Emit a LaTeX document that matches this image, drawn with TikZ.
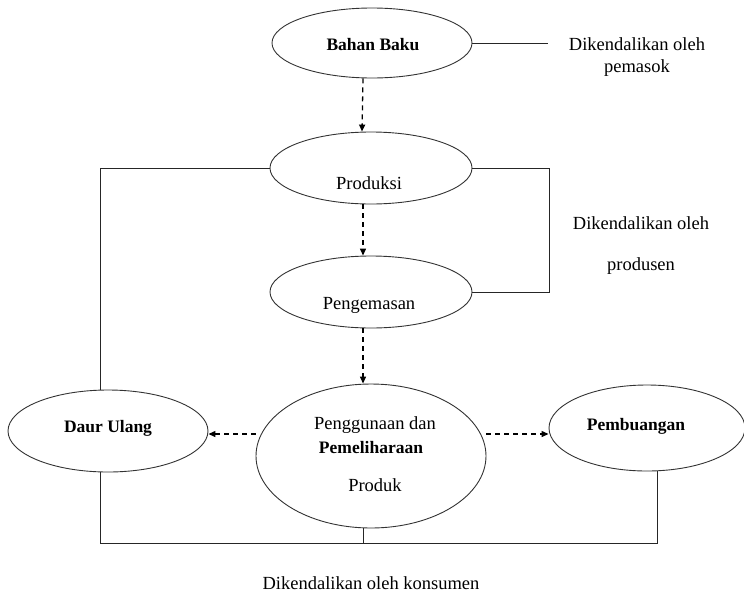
\documentclass[tikz,border=0pt]{standalone}
\usepackage{fontspec}
\setmainfont{Liberation Serif}
\usetikzlibrary{shapes.geometric,arrows.meta}
\begin{document}
\begin{tikzpicture}[x=1pt,y=-1pt,
  oval/.style={draw=black!80,line width=0.9pt,ellipse,inner sep=0pt},
  txt/.style={font=\fontsize{18.5}{22}\selectfont,inner sep=0pt,align=center},
  btxt/.style={font=\fontsize{17.5}{21}\selectfont\bfseries,inner sep=0pt,align=center},
  link/.style={draw=black!85,line width=0.8pt},
  dasharrow/.style={draw=black,line width=1.3pt,dash pattern=on 5pt off 4pt,
    -{Triangle[length=7pt,width=6pt]}}]
\useasboundingbox (0,0) rectangle (744,595);

% stages of the product life cycle
\node[oval,minimum width=200,minimum height=70] (bb) at (372,43) {};
\node[oval,minimum width=202,minimum height=72] (prod) at (371,168) {};
\node[oval,minimum width=202,minimum height=72] (kem) at (371,292) {};
\node[oval,minimum width=230,minimum height=144] (guna) at (371,456) {};
\node[oval,minimum width=200,minimum height=82] (daur) at (108,431) {};
\node[oval,minimum width=196,minimum height=86] (buang) at (647,428) {};

% labels inside the stages
\node[btxt] (tbb) at (373,45) {Bahan Baku};
\node[txt] (tprod) at (369,183) {Produksi};
\node[txt] (tkem) at (369,305) {Pengemasan};
\node[txt] (tguna1) at (375,425) {Penggunaan dan};
\node[btxt] (tguna2) at (371,448) {Pemeliharaan};
\node[txt] (tguna3) at (375,485) {Produk};
\node[btxt] (tdaur) at (108,428) {Daur Ulang};
\node[btxt] (tbuang) at (636,426) {Pembuangan};

% who controls each part
\node[txt,text depth=0pt] (pemasok) at (637,55) {Dikendalikan oleh\\pemasok};
\node[txt] (produsen1) at (641,223) {Dikendalikan oleh};
\node[txt] (produsen2) at (641,266) {produsen};
\node[txt] (konsumen) at (371,583) {Dikendalikan oleh konsumen};

% flow between stages
\draw[dasharrow] ([xshift=-9pt]bb.south) -- ([xshift=-9pt]prod.north);
\draw[dasharrow] ([xshift=-8pt]prod.south) -- ([xshift=-8pt]kem.north);
\draw[dasharrow] ([xshift=-8pt]kem.south) -- ([xshift=-8pt]guna.north);
\draw[dasharrow] (guna.west |- 0,434) -- (daur.east |- 0,434);
\draw[dasharrow] (guna.east |- 0,434) -- (buang.west |- 0,434);

% bracket and connector lines
\coordinate (c1) at (548,43);
\draw[link] (bb.east) -- (c1);
\coordinate (p1) at (549,168);
\coordinate (p2) at (549,292);
\draw[link] (prod.east) -- (p1) -- (p2) -- (kem.east);
\coordinate (l1) at (100,168);
\draw[link] (prod.west) -- (l1) -- (l1 |- daur.north);
\coordinate (b1) at (100,543);
\coordinate (b2) at (657,543);
\coordinate (b3) at (363,543);
\draw[link] (b1 |- daur.south) -- (b1) -- (b2) -- (b2 |- buang.south);
\draw[link] (b3 |- guna.south) -- (b3);
\end{tikzpicture}
\end{document}
